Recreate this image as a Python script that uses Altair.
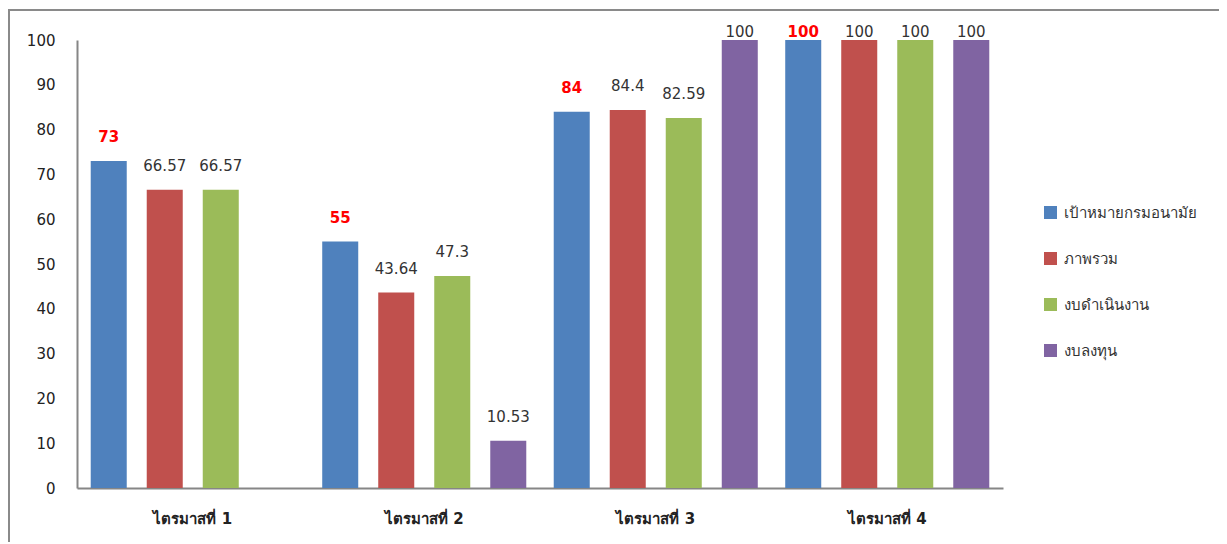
import altair as alt
import pandas as pd

quarters = ["ไตรมาสที่ 1", "ไตรมาสที่ 2", "ไตรมาสที่ 3", "ไตรมาสที่ 4"]
series = ["เป้าหมายกรมอนามัย", "ภาพรวม", "งบดำเนินงาน", "งบลงทุน"]
target = [73, 55, 84, 100]
overall = [66.57, 43.64, 84.4, 100]
operating = [66.57, 47.3, 82.59, 100]
investment = [None, 10.53, 100, 100]
colors = ["#4F81BD", "#C0504D", "#9BBB59", "#8064A2"]

rows = []
for s, vals in zip(series, [target, overall, operating, investment]):
    for q, v in zip(quarters, vals):
        if v is not None:
            rows.append({"quarter": q, "series": s, "value": v, "label": f"{v:g}"})
df = pd.DataFrame(rows)

FONT = "Tahoma, 'Leelawadee UI', 'DejaVu Sans', sans-serif"
W, H = 926, 448

x = alt.X("quarter:N", sort=quarters,
          scale=alt.Scale(domain=quarters, paddingInner=0, paddingOuter=0),
          axis=alt.Axis(title=None, labelAngle=0, labelFontWeight="bold", labelFontSize=15,
                        labelColor="#222222", labelPadding=23, ticks=False,
                        domainColor="#868686", domainWidth=2))
xo = alt.XOffset("series:N", sort=series,
                 scale=alt.Scale(domain=series, paddingInner=0.357, paddingOuter=0.245))
yscale = alt.Scale(domain=[0, 100], nice=False)
yaxis = alt.Axis(title=None, values=list(range(0, 101, 10)), grid=False, ticks=False,
                 labelPadding=22, labelFontSize=15, labelColor="#222222",
                 domainColor="#868686", domainWidth=2)

bars = alt.Chart(df).mark_bar().encode(
    x=x, xOffset=xo,
    y=alt.Y("value:Q", scale=yscale, axis=yaxis),
    color=alt.Color("series:N", sort=series,
                    scale=alt.Scale(domain=series, range=colors),
                    legend=alt.Legend(title=None, orient="none", legendX=966, legendY=165,
                                      symbolType="square", symbolSize=169, symbolStrokeWidth=0,
                                      labelFontSize=15, labelColor="#333333", rowPadding=30,
                                      labelOffset=6)),
)

lab = alt.Chart(df).transform_calculate(ly="min(datum.value + 5.3, 101.8)")
lab_blue = lab.transform_filter(alt.datum.series == series[0]).mark_text(
    baseline="middle", fontSize=15, fontWeight="bold", color="#FF0000", font=FONT
).encode(x=x, xOffset=xo, y=alt.Y("ly:Q", scale=yscale, axis=yaxis), text="label:N")
lab_other = lab.transform_filter(alt.datum.series != series[0]).mark_text(
    baseline="middle", fontSize=15, color="#333333", font=FONT
).encode(x=x, xOffset=xo, y=alt.Y("ly:Q", scale=yscale, axis=yaxis), text="label:N")

frame = alt.Chart(pd.DataFrame({"a": [0]})).mark_rect(
    fill="transparent", stroke="#8a8a8a", strokeWidth=2
).encode(x=alt.value(-68), x2=alt.value(1300), y=alt.value(-30), y2=alt.value(700))

chart = alt.layer(frame, bars, lab_blue, lab_other).properties(
    width=W, height=H,
    autosize=alt.AutoSizeParams(type="none"),
    padding={"left": 69, "top": 32, "right": 216, "bottom": 54},
).configure_view(strokeWidth=0).configure_axis(labelFont=FONT).configure_legend(labelFont=FONT)

chart.save("out.html", embed_options={"renderer": "svg", "actions": False})
